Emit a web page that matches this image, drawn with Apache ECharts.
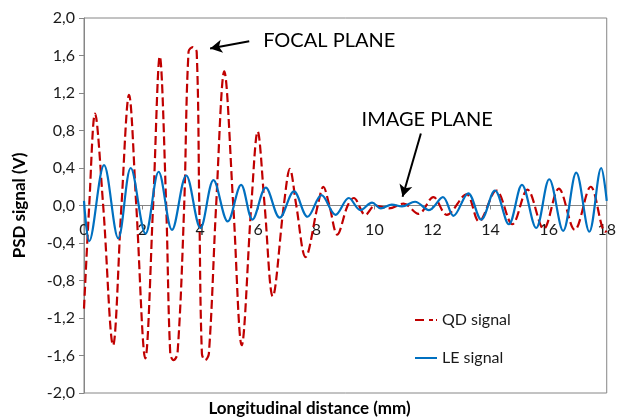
<!DOCTYPE html>
<html><head><meta charset="utf-8">
<script src="https://cdn.jsdelivr.net/npm/echarts@6/dist/echarts.min.js"></script>
<style>html,body{margin:0;padding:0;background:#fff}#c{width:619px;height:420px}</style>
</head><body><div id="c"></div>
<script>
// Longitudinal distance (mm) / QD signal (V)
const qdX = [0.00,0.18,0.38,0.66,1.00,1.29,1.55,1.80,2.11,2.38,2.61,2.83,2.97,3.08,3.22,3.45,3.60,3.75,3.88,3.97,4.06,4.17,4.30,4.55,4.83,5.14,5.43,5.76,5.98,6.22,6.50,6.88,7.09,7.31,7.63,8.05,8.24,8.45,8.72,9.08,9.29,9.69,10.03,10.50,11.00,11.52,12.03,12.49,13.17,13.60,14.20,14.75,15.27,15.83,16.35,16.90,17.45,17.95,18.00];
const qdY = [-1.10,0.00,0.98,0.00,-1.49,0.00,1.18,0.00,-1.63,0.00,1.59,0.00,-1.58,-1.65,-1.58,0.00,1.64,1.69,1.64,0.00,-1.58,-1.65,-1.58,0.00,1.43,0.00,-1.49,0.00,0.79,0.00,-0.97,0.00,0.39,0.00,-0.55,0.00,0.20,0.00,-0.31,0.00,0.08,-0.10,0.00,-0.03,0.02,-0.09,0.09,-0.10,0.12,-0.17,0.16,-0.20,0.17,-0.25,0.18,-0.26,0.20,-0.28,-0.27];
// Longitudinal distance (mm) / LE signal (V)
const leX = [0.00,0.18,0.69,1.18,1.61,2.12,2.57,3.03,3.52,4.01,4.46,4.95,5.41,5.80,6.26,6.74,7.23,7.70,8.18,8.66,9.12,9.52,9.92,10.22,10.60,10.95,11.40,11.88,12.36,12.72,13.23,13.68,14.15,14.63,15.08,15.57,16.02,16.50,16.95,17.40,17.81,18.00];
const leY = [0.05,-0.38,0.43,-0.35,0.40,-0.30,0.36,-0.26,0.32,-0.24,0.27,-0.17,0.22,-0.15,0.19,-0.13,0.15,-0.12,0.11,-0.10,0.08,-0.05,0.03,-0.03,0.01,-0.01,0.04,-0.05,0.09,-0.11,0.13,-0.15,0.16,-0.20,0.22,-0.24,0.28,-0.27,0.35,-0.28,0.40,0.05];

const seriesNames = ['QD signal', 'LE signal'];
const xTicks = [0,2,4,6,8,10,12,14,16,18];
const yTicks = [-2.0,-1.6,-1.2,-0.8,-0.4,0.0,0.4,0.8,1.2,1.6,2.0];
const yTickLabels = ['-2,0','-1,6','-1,2','-0,8','-0,4','0,0','0,4','0,8','1,2','1,6','2,0'];
const xTitle = 'Longitudinal distance (mm)';
const yTitle = 'PSD signal (V)';
// annotations (data coordinates)
const noteText = ['FOCAL PLANE', 'IMAGE PLANE'];
const noteAt = [[6.17, 1.76], [9.56, 0.92]];
const arrowFrom = [[5.69, 1.753], [11.60, 0.768]];
const arrowTo = [[4.343, 1.675], [10.97, 0.093]];

const FONT = 'Lato, "Open Sans", sans-serif';
const zip = (xs, ys) => xs.map((x, i) => [x, ys[i]]);

const GRID = {left: 84, right: 10, top: 18, bottom: 27};
const plotH = 420 - GRID.top - GRID.bottom;
const yMin = yTicks[0], yMax = yTicks[yTicks.length - 1];
// move the category axis up to the value 0 line
const xAxisOffset = -plotH * (0 - yMin) / (yMax - yMin);

const chart = echarts.init(document.getElementById('c'), null, {renderer: 'canvas'});
chart.setOption({
  animation: false,
  backgroundColor: '#fff',
  textStyle: {fontFamily: FONT},
  grid: Object.assign({show: true, borderColor: '#868686', borderWidth: 1, containLabel: false}, GRID),
  legend: {
    orient: 'vertical', left: 415, top: 312, itemGap: 22, itemWidth: 22, itemHeight: 3, padding: 0,
    textStyle: {fontSize: 16, color: '#1a1a1a', fontFamily: FONT},
    data: [
      {name: seriesNames[0], icon: 'path://M0,0h9v2h-9z M14,0h4v2h-4z M21,0h1v2h-1z'},
      {name: seriesNames[1], icon: 'path://M0,0h22v2h-22z'}
    ]
  },
  xAxis: {
    type: 'value', min: xTicks[0], max: xTicks[xTicks.length - 1], interval: 2,
    position: 'bottom', offset: xAxisOffset,
    axisLine: {onZero: false, lineStyle: {color: '#868686', width: 1}},
    axisTick: {show: true, inside: false, length: 4, lineStyle: {color: '#868686'}},
    axisLabel: {margin: 16, fontSize: 16, color: '#1a1a1a', fontFamily: FONT,
      formatter: v => String(v)},
    splitLine: {show: false}
  },
  yAxis: {
    type: 'value', min: yMin, max: yMax, interval: 0.4,
    name: yTitle, nameLocation: 'middle', nameGap: 56,
    nameTextStyle: {fontSize: 17, fontWeight: 'bold', color: '#000', fontFamily: FONT},
    axisLine: {show: true, lineStyle: {color: '#868686', width: 1}},
    axisTick: {show: true, length: 5, lineStyle: {color: '#868686'}},
    axisLabel: {margin: 9, fontSize: 16, color: '#1a1a1a', fontFamily: FONT,
      formatter: v => { const i = yTicks.findIndex(t => Math.abs(t - v) < 1e-6); return i >= 0 ? yTickLabels[i] : ''; }},
    splitLine: {show: false}
  },
  graphic: [{
    type: 'text', left: 'center', top: 400,
    style: {text: xTitle, x: 347, fontSize: 17, fontWeight: 'bold', fill: '#000', fontFamily: FONT}
  }],
  series: [
    {
      name: seriesNames[0], type: 'line', data: zip(qdX, qdY), smooth: 0.35, symbol: 'none',
      lineStyle: {color: '#C00000', width: 2.2, type: [9, 4]}, itemStyle: {color: '#C00000'},
      markLine: {
        silent: true, symbol: ['none', 'arrow'], symbolSize: [10, 12],
        lineStyle: {color: '#000', width: 2, type: 'solid'}, label: {show: false},
        data: arrowFrom.map((p, i) => [{coord: p}, {coord: arrowTo[i]}])
      },
      markPoint: {
        silent: true, symbol: 'circle', symbolSize: 0,
        label: {show: true, position: 'right', distance: 0, fontSize: 20, color: '#000', fontFamily: FONT,
          formatter: p => p.name},
        data: noteAt.map((p, i) => ({name: noteText[i], coord: p}))
      }
    },
    {
      name: seriesNames[1], type: 'line', data: zip(leX, leY), smooth: 0.35, symbol: 'none',
      lineStyle: {color: '#0070C0', width: 2.2}, itemStyle: {color: '#0070C0'}
    }
  ]
});
</script></body></html>
